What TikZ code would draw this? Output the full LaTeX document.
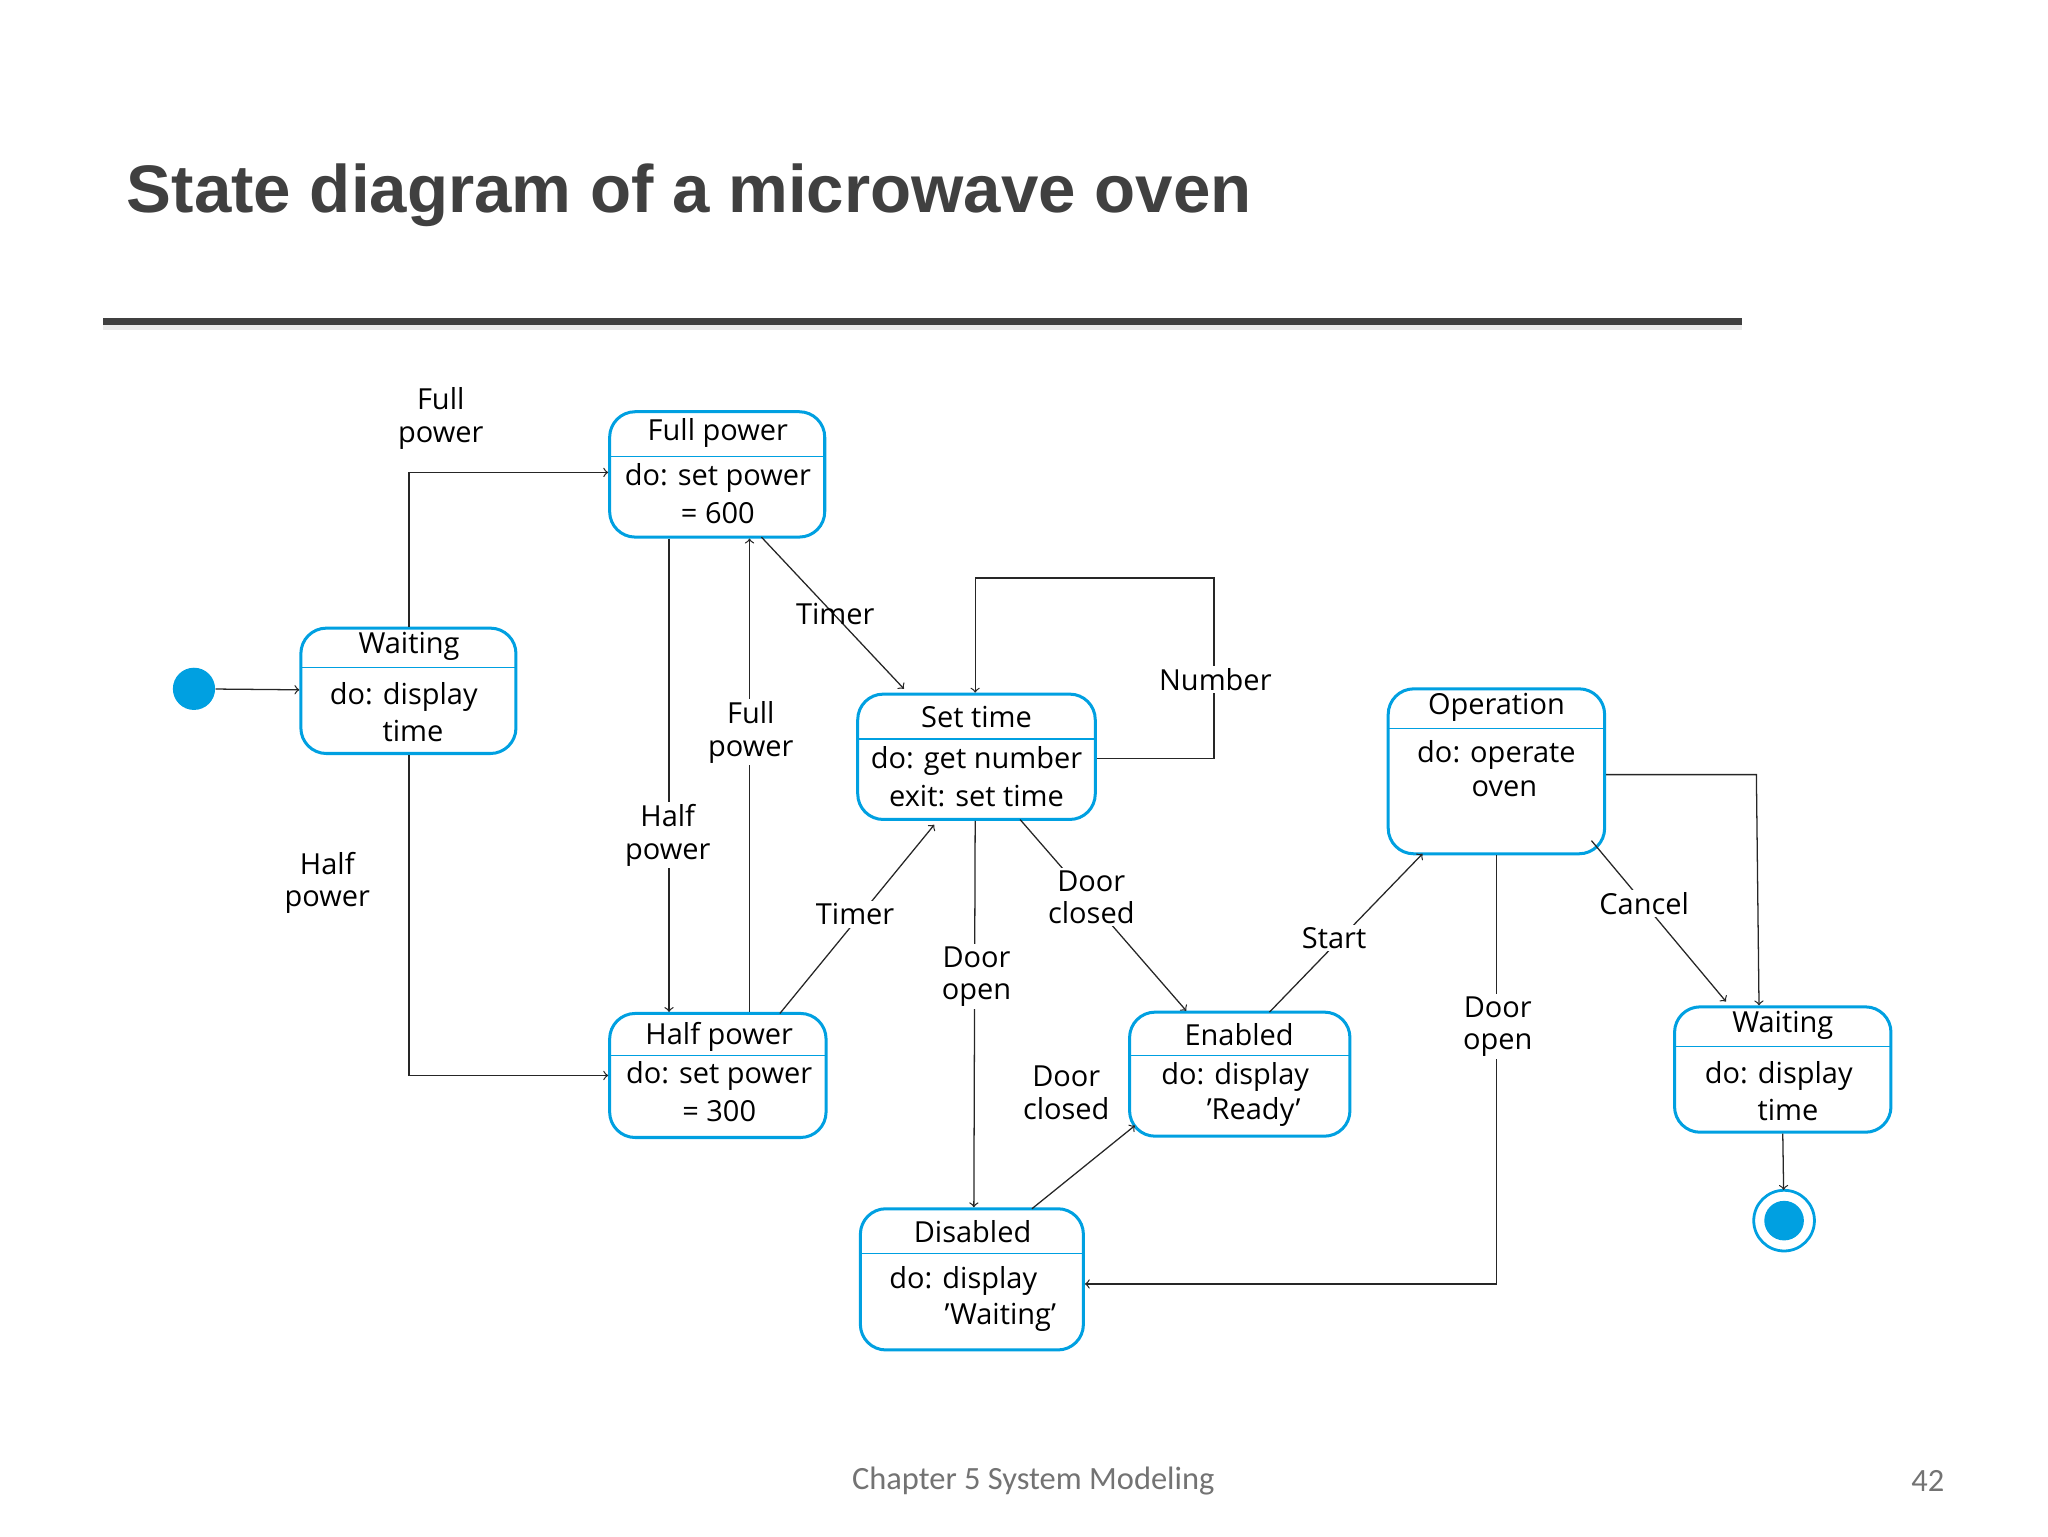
\documentclass[tikz,border=0pt]{standalone}
\usepackage{fontspec}
\setmainfont{Open Sans}
\newfontfamily\titlefont{Liberation Sans}
\newfontfamily\footfont{Carlito}
\usetikzlibrary{calc}
\definecolor{sblue}{RGB}{0,160,225}
\definecolor{tgray}{RGB}{64,64,64}
\newcommand{\sq}{\char"0027\relax}
\tikzset{
 st/.style={draw=sblue,line width=1.3pt,rounded corners=11pt,inner sep=0pt},
 hl/.style={draw=sblue,line width=0.6pt},
 tx/.style={font=\fontsize{12.5}{14}\selectfont,inner sep=1pt},
 lb/.style={font=\fontsize{12.5}{14}\selectfont,align=center,fill=white,inner sep=1pt},
 ed/.style={draw=black!85,line width=0.55pt,-to},
}
\newcommand{\mystate}[7]{%
 \node[st,minimum width=#4*0.02cm-#2*0.02cm,minimum height=#5*0.02cm-#3*0.02cm] (#1) at ({(#2+#4)/2},{(#3+#5)/2}) {};
 \draw[hl] (#2,#6) -- (#4,#6);
 #7}
\begin{document}
\begin{tikzpicture}[x=0.02cm,y=-0.02cm]
\useasboundingbox (0,0) rectangle (1552,1164);
\node[anchor=west,font=\titlefont\bfseries\fontsize{29}{32}\selectfont,text=tgray] (title) at (90,148) {State diagram of a microwave oven};
\fill[black!8] (78,246) rectangle (1320,250);
\fill[tgray] (78,241) rectangle (1320,246);
\node[font=\footfont\fontsize{14}{16}\selectfont,text=black!55] (foot) at (783,1122) {Chapter 5 System Modeling};
\node[font=\footfont\fontsize{14}{16}\selectfont,text=black!55] (num) at (1461,1122) {42};

\fill[sblue] (147,522) circle (16);
\node[circle,minimum size=32*0.02cm,inner sep=0pt] (ini) at (147,522) {};

\mystate{w1}{228}{476}{391}{571}{506}{%
 \node[tx] (w1a) at (310,490) {Waiting};
 \node[tx] (w1b) at (306,528) {do: display};
 \node[tx] (w1c) at (313,554) {time};}
\mystate{fp}{462}{312}{625}{407}{346}{%
 \node[tx] (fpa) at (544,328) {Full power};
 \node[tx] (fpb) at (544,362) {do: set power};
 \node[tx] (fpc) at (544,389) {= 600};}
\mystate{sett}{650}{526}{830}{621}{560}{%
 \node[tx] (sta) at (740,543) {Set time};
 \node[tx] (stb) at (740,577) {do: get number};
 \node[tx] (stc) at (740,603) {exit: set time};}
\mystate{hp}{462}{768}{626}{862}{800}{%
 \node[tx] (hpa) at (545,786) {Half power};
 \node[tx] (hpb) at (545,815) {do: set power};
 \node[tx] (hpc) at (545,842) {= 300};}
\mystate{en}{856}{767}{1023}{861}{800}{%
 \node[tx] (ena) at (939,784) {Enabled};
 \node[tx] (enb) at (936,816) {do: display};
 \node[tx] (enc) at (950,843) {\sq Ready\sq};}
\mystate{dis}{652}{916}{821}{1023}{950}{%
 \node[tx] (disa) at (737,933) {Disabled};
 \node[tx] (disb) at (730,971) {do: display};
 \node[tx] (disc) at (758,998) {\sq Waiting\sq};}
\mystate{op}{1052}{522}{1216}{647}{552}{%
 \node[tx] (opa) at (1134,536) {Operation};
 \node[tx] (opb) at (1134,572) {do: operate};
 \node[tx] (opc) at (1140,598) {oven};}
\mystate{w2}{1269}{763}{1433}{858}{793}{%
 \node[tx] (w2a) at (1351,777) {Waiting};
 \node[tx] (w2b) at (1348,815) {do: display};
 \node[tx] (w2c) at (1355,841) {time};}
\draw[sblue,line width=1.2pt] (1352,925) circle (23);
\fill[sblue] (1352,925) circle (15);
\node[circle,minimum size=46*0.02cm,inner sep=0pt] (fin) at (1352,925) {};

\draw[ed] (ini) -- (w1);
\draw[ed] (w1.north -| 310,0) |- (fp.west |- 0,358);
\node[lb] (l1) at (334,317) {Full\\power};
\draw[ed] (w1.south -| 310,0) |- (hp.west |- 0,815);
\node[lb] (l2) at (248,669) {Half\\power};
\draw[ed] (fp.south -| 507,0) -- (hp.north -| 507,0);
\node[lb] (l3) at (506,633) {Half\\power};
\draw[ed] (hp.north -| 568,0) -- (fp.south -| 568,0);
\node[lb] (l4) at (569,555) {Full\\power};
\draw[ed] (577,407) -- (685,522);
\node[lb,fill=none] (l5) at (633,465) {Timer};
\draw[ed] (591,768) -- (708,625);
\node[lb] (l6) at (648,693) {Timer};
\draw[ed] (sett.east |- 0,575) -- (920,575) -- (920,438) -- (739,438) -- (sett.north -| 739,0);
\node[lb] (l7) at (921,515) {Number};
\draw[ed] (sett.south -| 739,0) -- (dis.north -| 738,0);
\node[lb] (l8) at (740,740) {Door\\open};
\draw[ed] (773,621) -- (899,766);
\node[lb] (l9) at (827,680) {Door\\closed};
\draw[ed] (782,916) -- (860,853);
\node[lb] (l10) at (808,828) {Door\\closed};
\draw[ed] (962,767) -- (1078,647);
\node[lb] (l11) at (1011,711) {Start};
\draw[ed] (op.south -| 1134,0) |- (dis.east |- 0,973);
\node[lb] (l12) at (1135,778) {Door\\open};
\draw[ed] (1206,637) -- (1308,759);
\node[lb] (l13) at (1246,685) {Cancel};
\draw[ed] (op.east |- 0,587) -- (1331,587) -- (w2.north -| 1333,0);
\draw[ed] (w2.south -| 1351,0) -- (fin);
\end{tikzpicture}
\end{document}
